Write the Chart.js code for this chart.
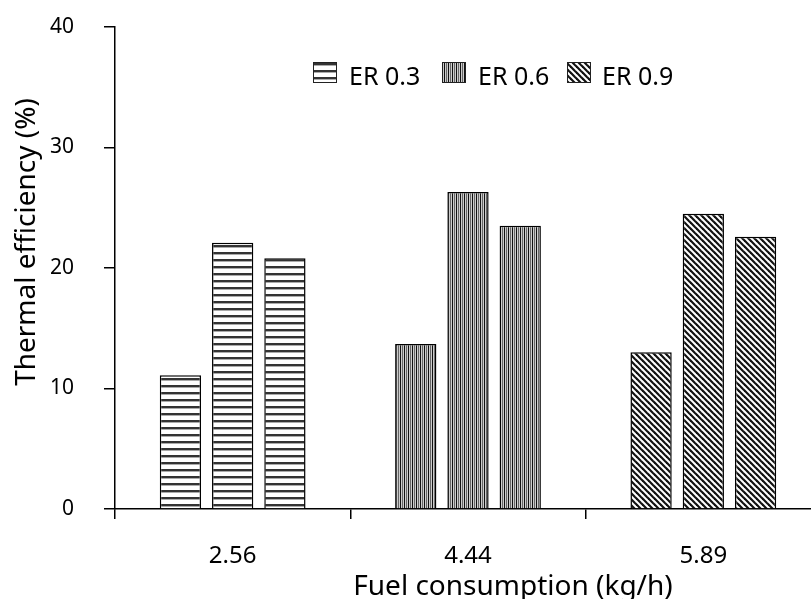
<!DOCTYPE html>
<html>
<head>
<meta charset="utf-8">
<script src="https://cdn.jsdelivr.net/npm/chart.js@4.4.1/dist/chart.umd.min.js"></script>
<style>
html,body{margin:0;padding:0;background:#fff;overflow:hidden;}
#wrap{width:830px;height:599px;}
</style>
</head>
<body>
<div id="wrap"><canvas id="c" width="830" height="599"></canvas></div>
<script>
// ---- data ----
const categories = ['2.56', '4.44', '5.89'];
const seriesLabels = ['ER 0.3', 'ER 0.6', 'ER 0.9'];
const bar1Values = [11.1, 13.7, 13.0];
const bar2Values = [22.1, 26.3, 24.5];
const bar3Values = [20.8, 23.5, 22.6];
const yTicks = [0, 10, 20, 30, 40];
const xTitle = 'Fuel consumption (kg/h)';
const yTitle = 'Thermal efficiency (%)';

const FONT = '"Noto Sans", sans-serif';

// ---- patterns ----
function makePattern(kind) {
  const c = document.createElement('canvas');
  const g = c.getContext('2d');
  if (kind === 'h') {
    c.width = 8; c.height = 7;
    g.fillStyle = '#fff'; g.fillRect(0, 0, 8, 7);
    g.fillStyle = '#333'; g.fillRect(0, 0, 8, 2);
    g.fillStyle = '#aaa'; g.fillRect(0, 2, 8, 1);
  } else if (kind === 'v') {
    c.width = 4; c.height = 8;
    g.fillStyle = '#ccc'; g.fillRect(0, 0, 4, 8);
    g.fillStyle = '#111'; g.fillRect(0, 0, 1, 8);
    g.fillStyle = '#666'; g.fillRect(2, 0, 1, 8);
  } else {
    c.width = 6; c.height = 6;
    g.fillStyle = '#fff'; g.fillRect(0, 0, 6, 6);
    g.strokeStyle = '#111'; g.lineWidth = 2.2;
    for (let k = -2; k <= 2; k++) {
      g.beginPath();
      g.moveTo(k * 6 - 1, -1);
      g.lineTo(k * 6 + 7, 7);
      g.stroke();
    }
  }
  return document.getElementById('c').getContext('2d').createPattern(c, 'repeat');
}
const patterns = [makePattern('h'), makePattern('v'), makePattern('d')];

const seriesValues = [bar1Values, bar2Values, bar3Values];
const datasets = seriesLabels.map((lab, i) => ({
  label: lab,
  data: seriesValues[i],
  backgroundColor: ctx => patterns[ctx.dataIndex] || patterns[0],
  borderColor: '#000',
  borderWidth: 1.5,
  categoryPercentage: 0.666,
  barPercentage: 0.79
}));

const decorPlugin = {
  id: 'decor',
  afterDraw(chart) {
    const g = chart.ctx;
    g.save();
    const items = [
      { x: 313, tx: 349 },
      { x: 442, tx: 478 },
      { x: 567, tx: 602 }
    ];
    g.font = '25px ' + FONT;
    g.textBaseline = 'alphabetic';
    g.textAlign = 'left';
    chart.data.datasets.forEach((ds, i) => {
      const it = items[i];
      g.fillStyle = patterns[i];
      g.fillRect(it.x, 62, 23, 20);
      g.strokeStyle = '#222';
      g.lineWidth = 1;
      g.strokeRect(it.x + 0.5, 62.5, 23, 20);
      g.fillStyle = '#000';
      g.fillText(ds.label, it.tx, 85);
    });
    g.font = '28px ' + FONT;
    g.textAlign = 'center';
    g.fillText(xTitle, 513, 595);
    g.translate(35, 242);
    g.rotate(-Math.PI / 2);
    g.font = '28px ' + FONT;
    g.textAlign = 'center';
    g.fillText(yTitle, 0, 0);
    g.restore();
  }
};

new Chart(document.getElementById('c'), {
  type: 'bar',
  data: { labels: categories, datasets: datasets },
  plugins: [decorPlugin],
  options: {
    responsive: false,
    animation: false,
    devicePixelRatio: 1,
    layout: { padding: { top: 27, right: 9, left: 0, bottom: 0 } },
    plugins: { legend: { display: false }, tooltip: { enabled: false } },
    scales: {
      x: {
        afterFit(s) { s.height = 90; s.paddingLeft = 0; s.paddingRight = 0; },
        border: { color: '#000', width: 1.5 },
        grid: { display: true, drawOnChartArea: false, drawTicks: true, tickLength: 10, color: '#000', lineWidth: 1.5, offset: true },
        ticks: { color: '#000', padding: 23, font: { family: FONT, size: 24 } }
      },
      y: {
        min: 0, max: 40,
        afterFit(s) { s.width = 115; s.paddingTop = 0; s.paddingBottom = 0; },
        afterBuildTicks(s) { s.ticks = yTicks.map(v => ({ value: v })); },
        border: { color: '#000', width: 1.5 },
        grid: { display: true, drawOnChartArea: false, drawTicks: true, tickLength: 11, color: '#000', lineWidth: 1.5 },
        ticks: { color: '#000', padding: 30, font: { family: FONT, size: 21 } }
      }
    }
  }
});
</script>
</body>
</html>
